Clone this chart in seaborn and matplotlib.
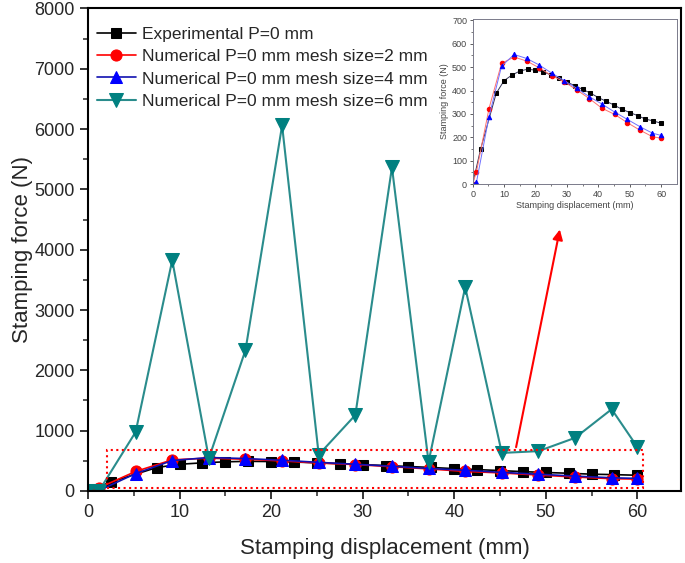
import numpy as np
import pandas as pd
import seaborn as sns
import matplotlib.pyplot as plt
import matplotlib as mpl
from matplotlib.patches import Rectangle

sns.set_style("ticks")
plt.rcParams['font.family'] = ['Liberation Sans', 'DejaVu Sans']

# experimental curve
exp_x = [0, 2.5, 7.5, 10, 12.5, 15, 17.5, 20, 22.5, 25, 27.5, 30, 32.5, 35,
         37.5, 40, 42.5, 45, 47.5, 50, 52.5, 55, 57.5, 60]
exp_y = [0, 148, 388, 442, 466, 483, 491, 487, 480, 466, 452, 436, 421, 405,
         389, 370, 354, 338, 320, 306, 293, 278, 270, 260]

# numerical curves
num_x = [0, 1.2, 5.2, 9.2, 13.2, 17.2, 21.2, 25.2, 29.2, 33.2, 37.2, 41.2,
         45.2, 49.2, 53.2, 57.2, 60]
mesh2 = [0, 52, 323, 516, 543, 526, 497, 463, 437, 402, 365, 324, 298, 263,
         231, 203, 196]
mesh4 = [0, 7, 288, 504, 554, 537, 509, 474, 442, 409, 373, 342, 308, 277,
         246, 218, 208]
mesh6 = [0, 0, 977, 3825, 540, 2335, 6060, 600, 1258, 5365, 480, 3380, 630,
         660, 880, 1355, 730]

labels = ['Experimental P=0 mm', 'Numerical P=0 mm mesh size=2 mm',
          'Numerical P=0 mm mesh size=4 mm', 'Numerical P=0 mm mesh size=6 mm']

fig = plt.figure(figsize=(6.85, 5.63), dpi=100)
ax = fig.add_axes([0.1285, 0.128, 0.866, 0.857])

sns.lineplot(x=exp_x, y=exp_y, ax=ax, color='black', marker='s', ms=7,
             mec='black', lw=1.2, label=labels[0], sort=False)
sns.lineplot(x=num_x, y=mesh2, ax=ax, color='red', marker='o', ms=8,
             mec='red', lw=1.2, label=labels[1], sort=False)
sns.lineplot(x=num_x, y=mesh4, ax=ax, color='#1010b0', marker='^', ms=9,
             mfc='blue', mec='blue', lw=1.2, label=labels[2], sort=False)
sns.lineplot(x=num_x, y=mesh6, ax=ax, color='#2a8c8c', marker='v', ms=10,
             mfc='#008080', mec='#008080', lw=1.5, label=labels[3], sort=False)

# zoom box and arrow
ax.add_patch(Rectangle((2.1, 50), 58.5, 630, fill=False, ec='red', ls=':', lw=1.5, zorder=5))
ax.annotate('', xy=(51.6, 4380), xytext=(46.7, 680),
            arrowprops=dict(arrowstyle='-|>', color='red', lw=1.5, mutation_scale=15))

ax.set_xlim(0, 64.8)
ax.set_ylim(0, 8000)
ax.set_xticks(np.arange(0, 61, 10))
ax.set_xticks(np.arange(0, 61, 5), minor=True)
ax.set_yticks(np.arange(0, 8001, 1000))
ax.set_yticks(np.arange(0, 8001, 500), minor=True)
ax.tick_params(which='major', length=6, width=1.3, labelsize=13, direction='out')
ax.tick_params(which='minor', length=3.5, width=1.1, direction='out')
for s in ax.spines.values():
    s.set_linewidth(1.5)
    s.set_color('black')
ax.set_xlabel('Stamping displacement (mm)', fontsize=16, labelpad=12)
ax.set_ylabel('Stamping force (N)', fontsize=16)
ax.yaxis.set_label_coords(-0.093, 0.5)

leg = ax.legend(loc='upper left', frameon=False, fontsize=12.5, handlelength=2.3,
                borderaxespad=0.5, labelspacing=0.42, handletextpad=0.3,
                bbox_to_anchor=(-0.012, 0.995))

# inset
ins = fig.add_axes([0.690, 0.673, 0.298, 0.293])
sns.lineplot(x=exp_x, y=exp_y, ax=ins, color='#333355', marker='s', ms=3,
             mec='black', mfc='black', lw=0.7, sort=False)
sns.lineplot(x=num_x, y=mesh2, ax=ins, color='#ff7070', marker='o', ms=3.2,
             mec='red', mfc='red', lw=0.7, sort=False)
sns.lineplot(x=num_x, y=mesh4, ax=ins, color='#7070ff', marker='^', ms=3.2,
             mec='blue', mfc='blue', lw=0.7, sort=False)
ins.set_xlim(0, 65)
ins.set_ylim(0, 705)
ins.set_xticks(np.arange(0, 61, 10))
ins.set_xticks(np.arange(0, 61, 5), minor=True)
ins.set_yticks(np.arange(0, 701, 100))
ins.set_yticks(np.arange(0, 701, 50), minor=True)
ins.tick_params(which='major', length=2.5, width=0.6, labelsize=6.5, colors='#444444', pad=1.5)
ins.tick_params(which='minor', length=1.5, width=0.5, colors='#444444')
for s in ins.spines.values():
    s.set_linewidth(0.7)
    s.set_color('#7a7a8a')
ins.set_xlabel('Stamping displacement (mm)', fontsize=6.5, color='#444444', labelpad=2)
ins.set_ylabel('Stamping force (N)', fontsize=6.5, color='#444444', labelpad=2)

fig.savefig('out.png', dpi=100)
